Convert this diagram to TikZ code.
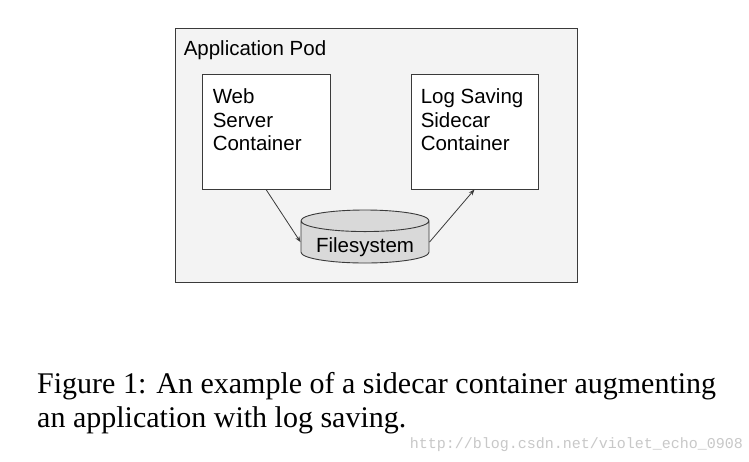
\documentclass[tikz,border=0pt]{standalone}
\usepackage{fontspec}
\setmainfont{Liberation Serif}
\setsansfont{Liberation Sans}
\setmonofont{Liberation Mono}
\usetikzlibrary{shapes.geometric,arrows.meta,positioning}

\definecolor{podgray}{HTML}{F3F3F3}
\definecolor{fsgray}{HTML}{D9D9D9}
\definecolor{linegray}{HTML}{3A3A3A}
\definecolor{markgray}{HTML}{C8C8C8}

\begin{document}
\begin{tikzpicture}[x=1pt, y=-1pt,
    box/.style={draw=linegray, line width=0.9pt},
    boxtext/.style={font=\sffamily\fontsize{20.5}{23.5}\selectfont, align=left, inner sep=0pt, anchor=north west},
    link/.style={draw=linegray, line width=0.8pt, -{Stealth[length=6pt, width=4.5pt]}}
  ]
    \useasboundingbox[fill=white] (0,0) rectangle (749,461);

    % Pod with its two containers
    \node[box, fill=podgray, minimum width=402, minimum height=254, inner sep=0pt] (pod) at (376,155) {};
    \node[boxtext] (podtext) at ([xshift=9, yshift=-13]pod.north west) {Application Pod};

    \node[box, fill=white, minimum width=128, minimum height=115, inner sep=0pt] (web) at (266,131.5) {};
    \node[boxtext] (webtext) at ([xshift=11, yshift=-15]web.north west) {Web\\Server\\Container};

    \node[box, fill=white, minimum width=127, minimum height=115, inner sep=0pt] (log) at (474.5,131.5) {};
    \node[boxtext] (logtext) at ([xshift=10, yshift=-15]log.north west) {Log Saving\\Sidecar\\Container};

    % Shared filesystem
    \node[box, cylinder, shape border rotate=90, shape aspect=0.22, minimum width=128, minimum height=53,
          inner sep=0pt, anchor=shape center, cylinder uses custom fill, cylinder body fill=fsgray,
          cylinder end fill=fsgray, text height=20pt, text depth=-3pt,
          font=\sffamily\fontsize{20.5}{23.5}\selectfont] (fs) at (365,236.5) {Filesystem};

    \draw[link] (web.south) -- (fs.west);
    \draw[link] (fs.east) -- (log.south);

    % Caption
    \node[font=\fontsize{30}{34}\selectfont, align=left, inner sep=0pt, anchor=base west] (caption) at (37,427)
        {Figure 1: An example of a sidecar container augmenting\\an application with log saving.};
    \node[font=\ttfamily\fontsize{15}{15}\selectfont, text=markgray, inner sep=0pt, anchor=base east] (mark) at (743,448)
        {http://blog.csdn.net/violet\_echo\_0908};
\end{tikzpicture}
\end{document}
